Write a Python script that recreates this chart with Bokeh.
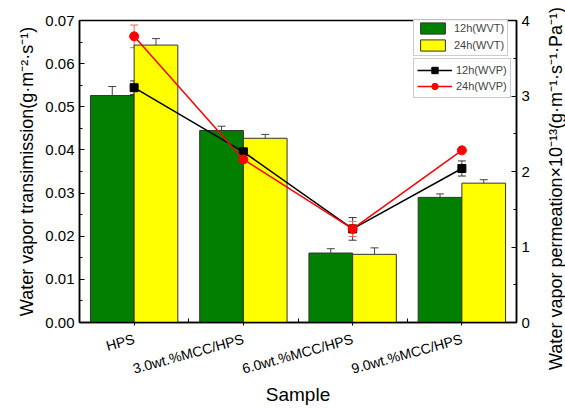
import math
from bokeh.plotting import figure
from bokeh.models import (Range1d, LinearAxis, FixedTicker, ColumnDataSource, Whisker,
                          TeeHead, Legend, LegendItem, Label)
from bokeh.embed import file_html
from bokeh.resources import INLINE

samples = ["HPS", "3.0wt.%MCC/HPS", "6.0wt.%MCC/HPS", "9.0wt.%MCC/HPS"]
wvt_12h = [0.0526, 0.0445, 0.0161, 0.0290]
wvt_12h_err = [0.0021, 0.0010, 0.0010, 0.0008]
wvt_24h = [0.0643, 0.0427, 0.0158, 0.0323]
wvt_24h_err = [0.0015, 0.0009, 0.0015, 0.0008]
wvp_12h = [3.11, 2.26, 1.24, 2.04]
wvp_12h_err = [0.09, 0.08, 0.15, 0.10]
wvp_24h = [3.79, 2.16, 1.24, 2.28]
wvp_24h_err = [0.15, 0.05, 0.10, 0.03]

FONT = "Liberation Sans"
pos = [i + 1 for i in range(len(samples))]

p = figure(width=565, height=408, output_backend="svg", toolbar_location=None,
           x_range=Range1d(0.5, 4.5), y_range=Range1d(0, 0.07),
           min_border_left=79, min_border_right=49, min_border_top=20, min_border_bottom=86)
p.extra_y_ranges = {"r": Range1d(0, 4)}
p.grid.visible = False
p.outline_line_color = "black"
p.outline_line_width = 1.5
p.background_fill_color = "white"
p.border_fill_color = "white"

bw = 0.4
src12 = ColumnDataSource(dict(x=[v - bw / 2 for v in pos], top=wvt_12h,
                              lo=[a - b for a, b in zip(wvt_12h, wvt_12h_err)],
                              hi=[a + b for a, b in zip(wvt_12h, wvt_12h_err)]))
src24 = ColumnDataSource(dict(x=[v + bw / 2 for v in pos], top=wvt_24h,
                              lo=[a - b for a, b in zip(wvt_24h, wvt_24h_err)],
                              hi=[a + b for a, b in zip(wvt_24h, wvt_24h_err)]))
b12 = p.vbar(x="x", top="top", width=bw, source=src12, fill_color="#007f00",
             line_color="#333333", line_width=1)
b24 = p.vbar(x="x", top="top", width=bw, source=src24, fill_color="#ffff00",
             line_color="#333333", line_width=1)
for s in (src12, src24):
    p.add_layout(Whisker(base="x", upper="hi", lower="lo", source=s, line_color="#444444",
                         line_width=1,
                         upper_head=TeeHead(size=8, line_color="#444444"),
                         lower_head=TeeHead(size=8, line_color="#444444")))

l12src = ColumnDataSource(dict(x=pos, y=wvp_12h,
                               lo=[a - b for a, b in zip(wvp_12h, wvp_12h_err)],
                               hi=[a + b for a, b in zip(wvp_12h, wvp_12h_err)]))
l24src = ColumnDataSource(dict(x=pos, y=wvp_24h,
                               lo=[a - b for a, b in zip(wvp_24h, wvp_24h_err)],
                               hi=[a + b for a, b in zip(wvp_24h, wvp_24h_err)]))
p.add_layout(Whisker(base="x", upper="hi", lower="lo", source=l12src, y_range_name="r",
                     line_color="#333333", line_width=1,
                     upper_head=TeeHead(size=8, line_color="#333333"),
                     lower_head=TeeHead(size=8, line_color="#333333")))
p.add_layout(Whisker(base="x", upper="hi", lower="lo", source=l24src, y_range_name="r",
                     line_color="#ff6060", line_width=1,
                     upper_head=TeeHead(size=8, line_color="#ff6060"),
                     lower_head=TeeHead(size=8, line_color="#ff6060")))
ln12 = p.line("x", "y", source=l12src, y_range_name="r", line_color="black", line_width=1.5)
mk12 = p.scatter("x", "y", source=l12src, y_range_name="r", marker="square", size=8,
                 fill_color="black", line_color="black")
ln24 = p.line("x", "y", source=l24src, y_range_name="r", line_color="red", line_width=1.5)
mk24 = p.scatter("x", "y", source=l24src, y_range_name="r", marker="circle", size=9,
                 fill_color="red", line_color="red")

# axes
xa = p.xaxis[0]
xa.ticker = FixedTicker(ticks=pos, minor_ticks=[1.5, 2.5, 3.5])
xa.major_label_overrides = {v: s for v, s in zip(pos, samples)}
xa.major_label_orientation = 0.27
xa.axis_label = "Sample"

ya = p.yaxis[0]
ya.ticker = FixedTicker(ticks=[i / 100 for i in range(8)],
                        minor_ticks=[i / 200 for i in range(15)])
ya.major_label_overrides = {i / 100: "%.2f" % (i / 100) for i in range(8)}
ya.axis_label = "Water vapor transimission(g\u00b7m\u207b\u00b2\u00b7s\u207b\u00b9)"

ra = LinearAxis(y_range_name="r",
                ticker=FixedTicker(ticks=[0, 1, 2, 3, 4], minor_ticks=[i / 2 for i in range(9)]))
p.add_layout(ra, "right")

for ax in (xa, ya, ra):
    ax.axis_line_color = "black"
    ax.axis_line_width = 1.5
    ax.major_tick_line_color = "black"
    ax.minor_tick_line_color = "black"
    ax.major_label_text_font = FONT
    ax.major_label_text_color = "black"
    ax.axis_label_text_font = FONT
    ax.axis_label_text_font_style = "normal"
    ax.axis_label_text_color = "black"
    ax.axis_label_text_font_size = "18px"
for ax in (ya, ra):
    ax.major_tick_in = 5
    ax.major_tick_out = 0
    ax.minor_tick_in = 3
    ax.minor_tick_out = 0
    ax.major_label_text_font_size = "15px"
    ax.major_label_standoff = 5
xa.major_tick_in = 0
xa.major_tick_out = 3
xa.minor_tick_in = 4
xa.minor_tick_out = 0
xa.major_label_text_font_size = "14px"
xa.major_label_standoff = 13
xa.axis_label_text_font_size = "19px"
xa.axis_label_standoff = -3

# right-hand axis title (reads bottom to top, as in the reference)
p.add_layout(Label(x=23, y=134, x_units="screen", y_units="screen", angle=math.pi / 2,
                   text="Water vapor permeation\u00d710\u207b\u00b9\u00b3(g\u00b7m\u207b\u00b9\u00b7s\u207b\u00b9\u00b7Pa\u207b\u00b9)",
                   text_font=FONT, text_font_size="18px", text_color="black",
                   text_align="center", text_baseline="middle"), "right")

leg1 = Legend(items=[LegendItem(label="12h(WVT)", renderers=[b12]),
                     LegendItem(label="24h(WVT)", renderers=[b24])],
              location=(334, 266), glyph_width=31, glyph_height=14, label_height=14,
              spacing=3, padding=3, label_standoff=6, margin=0,
              label_text_font=FONT, label_text_font_size="11px",
              border_line_color="#999999", border_line_width=1.5)
leg2 = Legend(items=[LegendItem(label="12h(WVP)", renderers=[ln12, mk12]),
                     LegendItem(label="24h(WVP)", renderers=[ln24, mk24])],
              location=(334, 224), glyph_width=35, glyph_height=16, label_height=16,
              spacing=0, padding=3, label_standoff=4, margin=0,
              label_text_font=FONT, label_text_font_size="11px",
              border_line_color="#999999", border_line_width=1.5)
p.add_layout(leg1, "center")
p.add_layout(leg2, "center")

open("out.html", "w").write(file_html(p, INLINE))
